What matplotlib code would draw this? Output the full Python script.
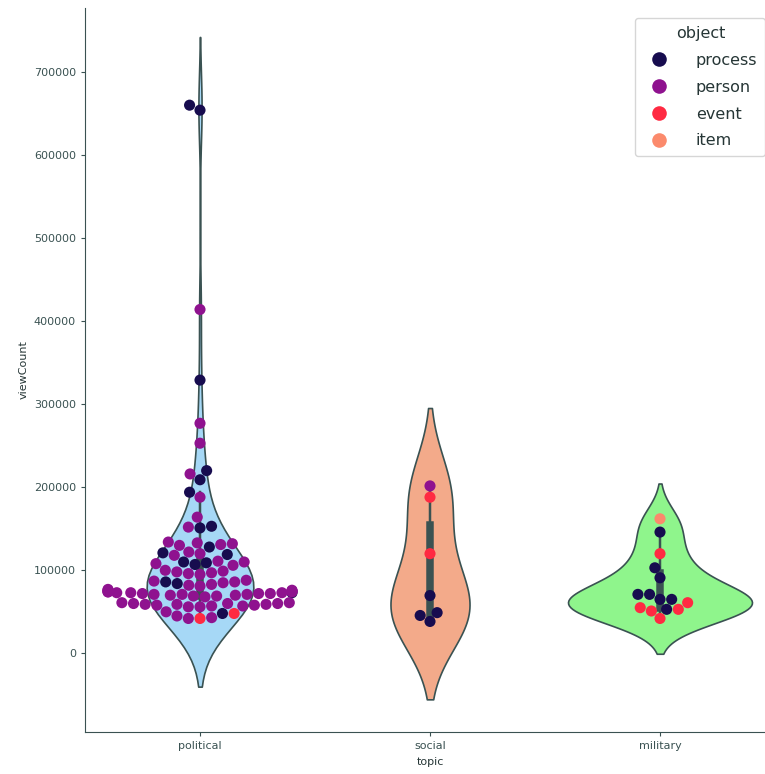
import matplotlib
matplotlib.use("Agg")
import matplotlib.pyplot as plt
import seaborn as sns
import pandas as pd
from matplotlib.lines import Line2D

topics = ["political", "social", "military"]
objects = ["process", "person", "event", "item"]

political_process = [660000, 654000, 329000, 220000, 209000, 194000, 153000, 151000,
                     128000, 121000, 119000, 110000, 109000, 107000, 86000, 84000, 73000, 48000]
political_person = [414000, 277000, 253000, 216000, 188000, 164000, 152000,
                    134000, 133000, 132000, 131000, 130000,
                    122000, 120000, 118000,
                    111000, 110000, 108000, 106000,
                    100000, 99000, 98000, 97000, 96000, 95000,
                    88000, 87000, 86000, 85000, 83000, 82000, 81000,
                    77000, 76000, 76000, 75000, 75000, 75000, 74000, 74000, 74000, 73000, 73000,
                    73000, 72000, 72000, 72000, 71000, 71000, 71000, 70000, 70000, 69000, 69000, 68000,
                    61000, 61000, 60000, 60000, 60000, 59000, 59000, 59000, 58000, 58000, 57000, 57000,
                    56000, 56000,
                    50000, 45000, 43000, 42000]
political_event = [48000, 42000]

social_process = [69600, 49000, 45600, 38400]
social_person = [201600]
social_event = [188000, 120000]

military_process = [146000, 103000, 91000, 71000, 71000, 65000, 65000, 53000]
military_event = [120000, 61000, 55000, 53000, 51000, 42000]
military_item = [162000]

violin_colors = ["#a6d8f6", "#f3aa8a", "#8ff58c"]
point_colors = ["#170c4f", "#8f128f", "#ff2a42", "#fb8a6c"]

rows = []
for topic, groups in [("political", [("process", political_process), ("person", political_person), ("event", political_event)]),
                      ("social", [("process", social_process), ("person", social_person), ("event", social_event)]),
                      ("military", [("process", military_process), ("event", military_event), ("item", military_item)])]:
    for obj, vals in groups:
        for v in vals:
            rows.append({"topic": topic, "object": obj, "viewCount": v})
df = pd.DataFrame(rows)

line_col = "#3a5252"
plt.rcParams.update({
    "axes.edgecolor": line_col,
    "xtick.color": line_col,
    "ytick.color": line_col,
    "text.color": "#263636",
    "axes.labelcolor": "#263636",
    "font.size": 8,
})

fig = plt.figure(figsize=(7.65, 7.74), dpi=100)
ax = fig.add_axes([85 / 765, 42 / 774, 690 / 765, 724 / 774])

sns.violinplot(data=df, x="topic", y="viewCount", order=topics, hue="topic",
               palette=violin_colors, saturation=1, inner="box", linecolor=line_col,
               linewidth=1.2, density_norm="area", common_norm=True,
               legend=False, ax=ax)
sns.swarmplot(data=df, x="topic", y="viewCount", order=topics, hue="object",
              hue_order=objects, palette=point_colors, size=8, linewidth=0,
              legend=False, ax=ax)

ax.set_ylim(-94700, 777000)
ax.set_xlim(-0.5, 2.5)
ax.spines["top"].set_visible(False)
ax.spines["right"].set_visible(False)
ax.set_yticks([0, 100000, 200000, 300000, 400000, 500000, 600000, 700000])
ax.set_yticklabels(["0", "100000", "200000", "300000", "400000", "500000", "600000", "700000"])
ax.tick_params(labelsize=8, length=3)
ax.set_xlabel("topic", fontsize=8)
ax.set_ylabel("viewCount", fontsize=8)

handles = [Line2D([0], [0], marker="o", linestyle="", markersize=10.5,
                  markerfacecolor=c, markeredgewidth=0) for c in point_colors]
leg = ax.legend(handles, objects, title="object", loc="upper right",
                fontsize=11.5, title_fontsize=11.5, handletextpad=1.3,
                borderaxespad=0.6, labelspacing=0.75, borderpad=0.5)

fig.savefig("out.png", dpi=100)
